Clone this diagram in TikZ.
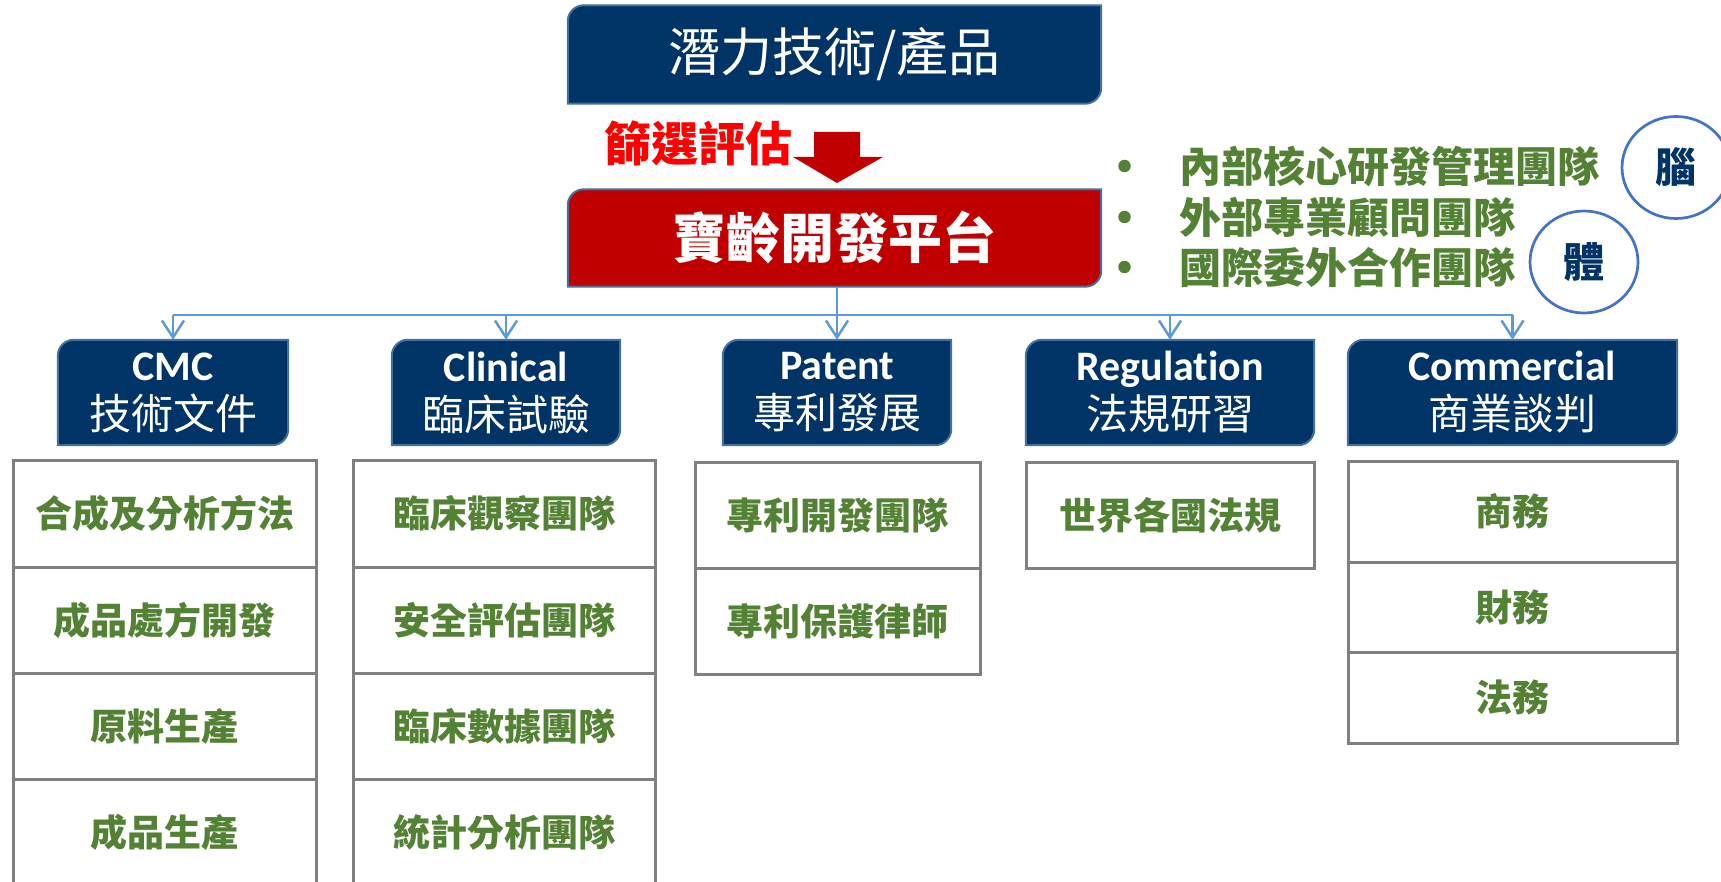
\documentclass[tikz,border=0pt]{standalone}
\usepackage{fontspec}
\newfontfamily\cjk{Noto Sans CJK TC}
\newfontfamily\latf[Ligatures=CommonOff]{Carlito}
\usetikzlibrary{arrows.meta,backgrounds,calc,shapes.geometric}
\definecolor{navy}{RGB}{0,51,102}
\definecolor{navyedge}{RGB}{65,113,156}
\definecolor{platred}{RGB}{192,0,0}
\definecolor{linkblue}{RGB}{91,155,213}
\definecolor{txtgreen}{RGB}{84,130,53}
\definecolor{cellgray}{RGB}{128,128,128}
\definecolor{ringblue}{RGB}{68,114,196}
\newcommand\tlbrpath[2]{(#1.south west) -- ([yshift=-#2]#1.north west) arc[start angle=180,end angle=90,radius=#2] -- (#1.north east) -- ([yshift=#2]#1.south east) arc[start angle=0,end angle=-90,radius=#2] -- cycle}
\begin{document}
\begin{tikzpicture}[x=1pt,y=-1pt,
  headbox/.style={rectangle, inner sep=0pt, text=white, align=center},
  catbox/.style={headbox, minimum height=105pt, font=\fontsize{42}{49}\selectfont},
  cell/.style={rectangle, draw=cellgray, line width=3pt, fill=white, inner sep=0pt,
    text=txtgreen, font=\cjk\bfseries\fontsize{37}{40}\selectfont},
  link/.style={draw=linkblue, line width=2.5pt},
  linkarrow/.style={link, -{Straight Barb[length=17pt,width=22pt]}},
  bulletdot/.style={circle, fill=txtgreen, minimum size=12.5pt, inner sep=0pt},
  bullettext/.style={anchor=west, inner sep=0pt, text=txtgreen, font=\cjk\bfseries\fontsize{42}{46}\selectfont},
  ring/.style={ellipse, draw=ringblue, line width=2.7pt, inner sep=0pt, text=navy, font=\cjk\bfseries\fontsize{41}{44}\selectfont}
]
\useasboundingbox (0,0) rectangle (1721,882);
\begin{scope}[on background layer]
  \fill[white] (0,0) rectangle (1721,882);
\end{scope}

% top boxes
\node[headbox, minimum width=533pt, minimum height=98pt, font=\cjk\fontsize{52}{60}\selectfont] (top) at (834.5,54.5) {潛力技術/產品};
\node[headbox, minimum width=533pt, minimum height=97pt, font=\cjk\bfseries\fontsize{54}{60}\selectfont] (plat) at (834.5,238) {寶齡開發平台};
\begin{scope}[on background layer]
  \path[fill=navy, draw=navyedge, line width=2pt] \tlbrpath{top}{16pt};
  \path[fill=platred, draw=navyedge, line width=2pt] \tlbrpath{plat}{16pt};
\end{scope}

% screening arrow and label
\node[text=red, inner sep=0pt, font=\cjk\bfseries\fontsize{47}{50}\selectfont] (screen) at (698,143) {篩選評估};
\fill[platred] (814,132) -- (860,132) -- (860,157) -- (883,157) -- (837,183) -- (793,157) -- (814,157) -- cycle;

% bullets
\node[bulletdot] (d1) at (1124.5,166) {};
\node[bulletdot] (d2) at (1124.5,217) {};
\node[bulletdot] (d3) at (1124.5,267) {};
\node[bullettext] (t1) at (1179,166) {內部核心研發管理團隊};
\node[bullettext] (t2) at (1179,217) {外部專業顧問團隊};
\node[bullettext] (t3) at (1179,267) {國際委外合作團隊};

% rings
\node[ring, minimum width=108pt, minimum height=102pt] (brain) at (1676,167.5) {腦};
\node[ring, minimum width=108pt, minimum height=102pt] (body) at (1584,262) {體};

% category boxes
\node[catbox, minimum width=230pt] (cmc) at (173,392.5) {{\latf\bfseries CMC}\\{\cjk 技術文件}};
\node[catbox, minimum width=228pt] (clin) at (506,392.5) {{\latf\bfseries Clinical}\\{\cjk 臨床試驗}};
\node[catbox, minimum width=228pt] (pat) at (837,392.5) {{\latf\bfseries Patent}\\{\cjk 專利發展}};
\node[catbox, minimum width=288pt] (reg) at (1170,392.5) {{\latf\bfseries Regulation}\\{\cjk 法規研習}};
\node[catbox, minimum width=329pt] (comm) at (1512.5,392.5) {{\latf\bfseries Commercial}\\{\cjk 商業談判}};
\begin{scope}[on background layer]
  \foreach \n in {cmc,clin,pat,reg,comm}
    \path[fill=navy, draw=navyedge, line width=2pt] \tlbrpath{\n}{16pt};
\end{scope}

% connectors
\coordinate (bus) at (0,315);
\draw[link] (plat.south -| pat.north) -- (pat.north |- bus);
\draw[link] (cmc.north |- bus) -- (comm.north |- bus);
\foreach \n in {cmc,clin,pat,reg,comm}
  \draw[linkarrow] (\n.north |- bus) -- (\n.north);

% CMC column
\node[cell, minimum width=303pt, minimum height=107pt] (cmc1) at (164.5,513.5) {合成及分析方法};
\node[cell, minimum width=303pt, minimum height=106pt] (cmc2) at (164.5,620) {成品處方開發};
\node[cell, minimum width=303pt, minimum height=106pt] (cmc3) at (164.5,726) {原料生產};
\node[cell, minimum width=303pt, minimum height=106pt] (cmc4) at (164.5,832) {成品生產};
% Clinical column
\node[cell, minimum width=302pt, minimum height=107pt] (clin1) at (504,513.5) {臨床觀察團隊};
\node[cell, minimum width=302pt, minimum height=106pt] (clin2) at (504,620) {安全評估團隊};
\node[cell, minimum width=302pt, minimum height=106pt] (clin3) at (504,726) {臨床數據團隊};
\node[cell, minimum width=302pt, minimum height=106pt] (clin4) at (504,832) {統計分析團隊};
% Patent column
\node[cell, minimum width=285pt, minimum height=106pt] (pat1) at (837.5,515) {專利開發團隊};
\node[cell, minimum width=285pt, minimum height=106pt] (pat2) at (837.5,621) {專利保護律師};
% Regulation column
\node[cell, minimum width=288pt, minimum height=106pt] (reg1) at (1170,515) {世界各國法規};
% Commercial column
\node[cell, minimum width=329pt, minimum height=101pt] (comm1) at (1512.5,511.5) {商務};
\node[cell, minimum width=329pt, minimum height=90pt] (comm2) at (1512.5,607) {財務};
\node[cell, minimum width=329pt, minimum height=91pt] (comm3) at (1512.5,697.5) {法務};
\end{tikzpicture}
\end{document}
